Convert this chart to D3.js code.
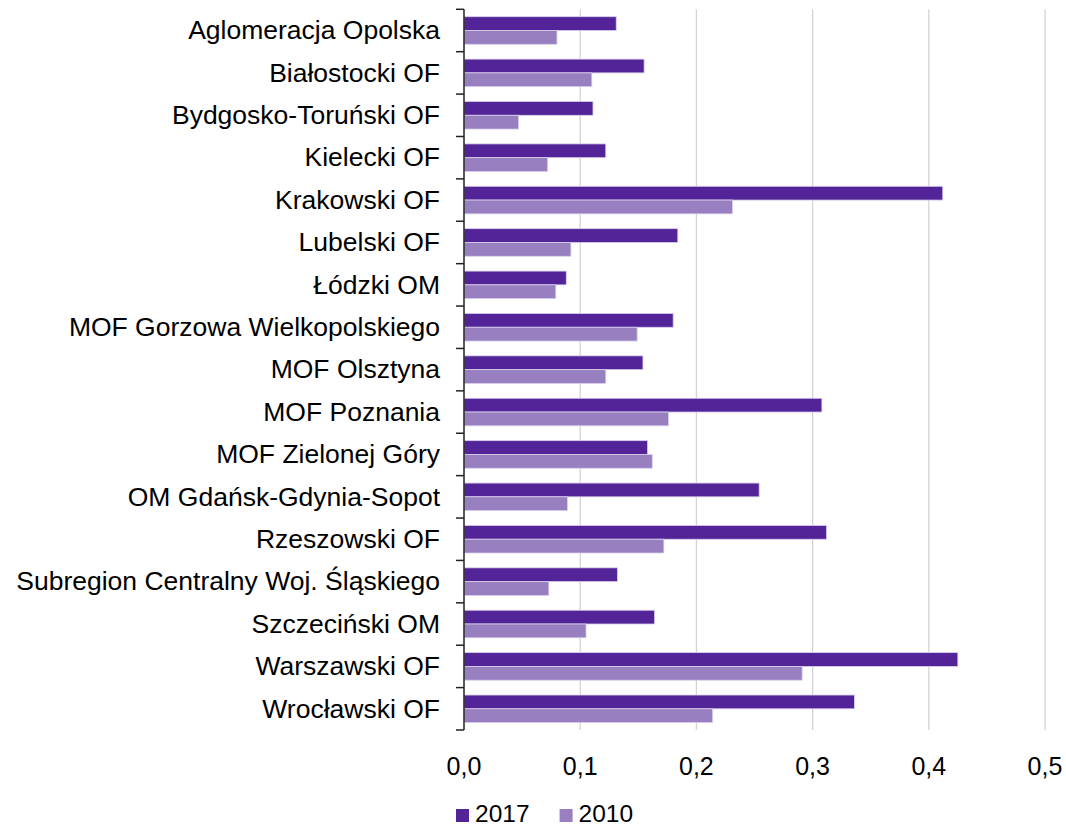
<html>
<head>
<meta charset="utf-8">
<script src="https://d3js.org/d3.v7.min.js"></script>
<style>
body { margin: 0; background: #fff; }
text { font-family: "Liberation Sans", Arial, sans-serif; fill: #000; }
</style>
</head>
<body>
<svg width="1066" height="827"></svg>
<script>
// values
var categories = ["Aglomeracja Opolska", "Białostocki OF", "Bydgosko-Toruński OF", "Kielecki OF",
  "Krakowski OF", "Lubelski OF", "Łódzki OM", "MOF Gorzowa Wielkopolskiego", "MOF Olsztyna",
  "MOF Poznania", "MOF Zielonej Góry", "OM Gdańsk-Gdynia-Sopot", "Rzeszowski OF",
  "Subregion Centralny Woj. Śląskiego", "Szczeciński OM", "Warszawski OF", "Wrocławski OF"];
var series = ["2017", "2010"];
var values2017 = [0.131, 0.155, 0.111, 0.122, 0.412, 0.184, 0.088, 0.180, 0.154,
  0.308, 0.158, 0.254, 0.312, 0.132, 0.164, 0.425, 0.336];
var values2010 = [0.080, 0.110, 0.047, 0.072, 0.231, 0.092, 0.079, 0.149, 0.122,
  0.176, 0.162, 0.089, 0.172, 0.073, 0.105, 0.291, 0.214];
var xTicks = [0, 0.1, 0.2, 0.3, 0.4, 0.5];
var colors = ["#522498", "#977fc0"];

var svg = d3.select("svg");
var plotLeft = 464, plotRight = 1045, plotTop = 9.3, plotBottom = 730;

var x = d3.scaleLinear().domain([0, 0.5]).range([plotLeft, plotRight]);
var y = d3.scaleBand().domain(categories).range([plotTop, plotBottom]).paddingInner(0.35).paddingOuter(0.175);
var ySub = d3.scaleBand().domain(series).range([0, y.bandwidth()]);

// gridlines
svg.append("g").selectAll("line")
  .data(xTicks.slice(1))
  .enter().append("line")
  .attr("x1", function(d) { return x(d); })
  .attr("x2", function(d) { return x(d); })
  .attr("y1", plotTop).attr("y2", plotBottom)
  .attr("stroke", "#d4d4d4").attr("stroke-width", 1.3);

// bars
var rows = categories.map(function(c, i) {
  return { cat: c, vals: [values2017[i], values2010[i]] };
});
var g = svg.append("g").selectAll("g")
  .data(rows)
  .enter().append("g")
  .attr("transform", function(d) { return "translate(0," + y(d.cat) + ")"; });
g.selectAll("rect")
  .data(function(d) { return d.vals.map(function(v, j) { return { s: series[j], v: v, j: j }; }); })
  .enter().append("rect")
  .attr("x", x(0))
  .attr("y", function(d) { return ySub(d.s); })
  .attr("width", function(d) { return x(d.v) - x(0); })
  .attr("height", ySub.bandwidth())
  .attr("fill", function(d) { return colors[d.j]; })
  .attr("stroke", "#d9cfec").attr("stroke-width", 0.8);

// y axis with ticks between categories
var yAxis = svg.append("g");
yAxis.append("line")
  .attr("x1", plotLeft).attr("x2", plotLeft).attr("y1", plotTop).attr("y2", plotBottom)
  .attr("stroke", "#222").attr("stroke-width", 1.5);
var step = (plotBottom - plotTop) / categories.length;
yAxis.selectAll("line.tk")
  .data(d3.range(categories.length + 1))
  .enter().append("line")
  .attr("class", "tk")
  .attr("x1", plotLeft - 8).attr("x2", plotLeft)
  .attr("y1", function(i) { return plotTop + step * i; })
  .attr("y2", function(i) { return plotTop + step * i; })
  .attr("stroke", "#222").attr("stroke-width", 1.5);
yAxis.selectAll("text")
  .data(categories)
  .enter().append("text")
  .attr("x", 440)
  .attr("y", function(d) { return y(d) + y.bandwidth() / 2; })
  .attr("dy", "0.33em")
  .attr("text-anchor", "end")
  .style("font-size", "26.5px")
  .text(function(d) { return d; });

// x tick labels
var fmt = function(d) { return d3.format(".1f")(d).replace(".", ","); };
svg.append("g").selectAll("text")
  .data(xTicks)
  .enter().append("text")
  .attr("x", function(d) { return x(d); })
  .attr("y", 775)
  .attr("text-anchor", "middle")
  .style("font-size", "25px")
  .text(fmt);

// legend
var legend = svg.append("g").selectAll("g")
  .data(series)
  .enter().append("g")
  .attr("transform", function(d, i) { return "translate(" + (456 + i * 103.6) + ",0)"; });
legend.append("rect")
  .attr("x", 0).attr("y", 809).attr("width", 13).attr("height", 13)
  .attr("fill", function(d, i) { return colors[i]; });
legend.append("text")
  .attr("x", 19).attr("y", 822)
  .style("font-size", "24.5px")
  .text(function(d) { return d; });
</script>
</body>
</html>
